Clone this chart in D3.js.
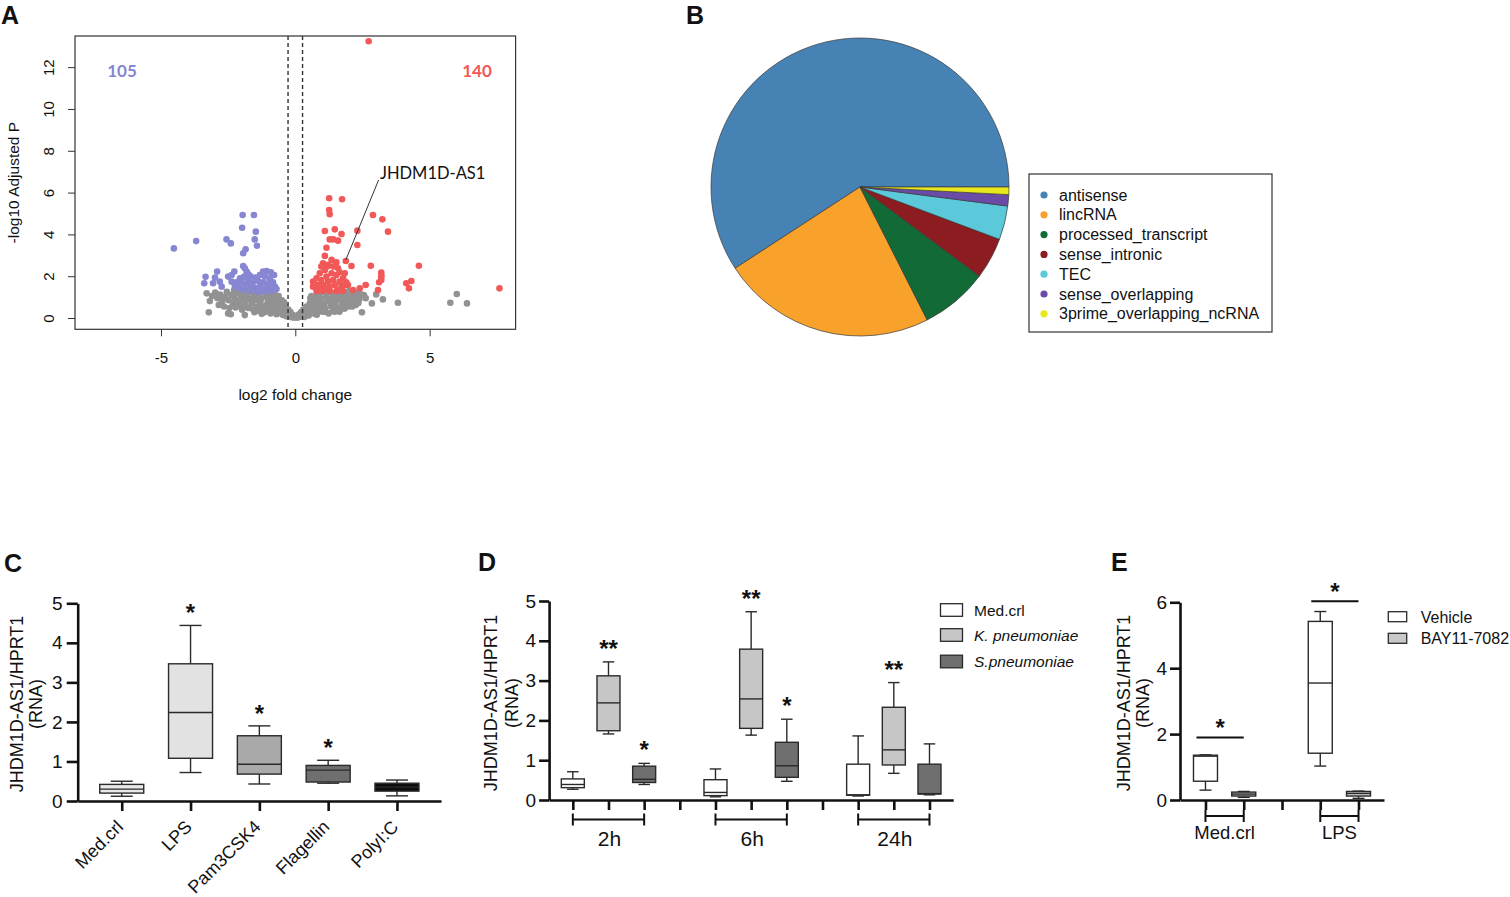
<!DOCTYPE html>
<html>
<head>
<meta charset="utf-8">
<script src="https://cdn.jsdelivr.net/npm/d3@7"></script>
<style>
  body { margin: 0; background: #fff; }
  svg text { font-family: "Liberation Sans", Arial, sans-serif; fill: #111; }
</style>
</head>
<body>
<svg id="fig" width="1510" height="897"></svg>
<script>
// ---- A: volcano (log2 fold change, -log10 adjusted P) ----
var volcanoGray = [
  [-3.30,1.18],[-3.18,0.81],[-3.22,0.27],[-3.10,1.05],[-2.98,1.22],[-2.90,0.95],[-2.80,1.12],[-2.72,0.80],
  [-2.62,1.02],[-2.55,1.25],[-2.50,0.22],[-2.48,0.85],[-2.40,0.18],[-2.38,1.10],[-2.32,0.66],[-2.25,0.92],
  [-2.18,1.20],[-2.12,0.75],[-2.05,0.58],[-2.02,1.02],[-1.95,1.28],[-1.92,0.85],[-1.88,0.14],[-1.85,0.62],
  [-1.80,1.10],[-1.76,0.48],[-1.72,0.90],[-1.66,1.25],[-1.62,0.70],[-1.58,0.42],[-1.55,1.02],[-1.48,0.85],
  [-1.45,1.28],[-1.42,0.55],[-1.38,0.35],[-1.35,1.08],[-1.30,0.72],[-1.26,0.92],[-1.22,1.25],[-1.18,0.45],
  [-1.14,0.28],[-1.10,1.05],[-1.08,0.62],[-1.02,0.82],[-0.98,1.22],[-0.96,0.40],[-0.92,0.22],[-0.88,1.00],
  [-0.85,0.60],[-0.80,0.80],[-0.76,1.12],[-0.74,0.35],[-0.70,0.18],[-0.66,0.92],[-0.64,0.55],[-0.60,0.72],
  [-0.56,0.30],[-0.54,0.48],[-0.50,0.85],[-0.46,0.15],[-0.44,0.62],[-0.40,0.38],[-0.36,0.52],[-0.33,0.08],
  [-0.30,0.25],[-0.26,0.40],[-0.22,0.12],[-0.18,0.28],[-0.14,0.04],[-0.10,0.15],[-0.06,0.02],[-0.02,0.06],
  [-2.85,0.62],[-2.65,0.55],[-2.45,0.48],[-2.28,1.32],[-2.08,1.30],[-1.98,0.40],[-1.70,1.35],[-1.52,0.28],
  [-1.40,1.35],[-1.25,0.20],[-1.12,1.32],[-0.95,0.60],[-0.90,1.30],[-0.78,0.50],[-0.62,1.05],[-0.52,0.22],
  [-0.42,0.75],[-2.70,0.95],[-2.22,0.50],[-1.60,0.92],[-1.28,0.58],[-1.04,1.02],
  [0.02,0.03],[0.06,0.10],[0.10,0.02],[0.14,0.18],[0.18,0.06],[0.22,0.28],[0.26,0.12],[0.30,0.40],
  [0.34,0.05],[0.38,0.22],[0.42,0.55],[0.46,0.35],[0.50,0.12],[0.54,0.70],[0.58,0.45],[0.62,0.25],
  [0.66,0.85],[0.70,0.58],[0.74,1.02],[0.78,0.38],[0.80,0.16],[0.84,0.75],[0.88,1.15],[0.92,0.52],
  [0.96,0.92],[1.00,0.30],[1.04,1.22],[1.08,0.68],[1.12,0.45],[1.16,1.02],[1.20,0.82],[1.24,0.22],
  [1.28,1.25],[1.32,0.58],[1.36,0.95],[1.40,0.38],[1.44,1.15],[1.48,0.72],[1.52,0.50],[1.56,1.28],
  [1.60,0.88],[1.64,0.30],[1.68,1.08],[1.72,0.62],[1.76,0.85],[1.80,1.22],[1.84,0.45],[1.88,1.00],
  [1.92,0.72],[1.96,1.25],[2.00,0.55],[2.05,0.95],[2.10,1.15],[2.15,0.75],[2.20,1.02],[2.25,0.62],
  [2.30,1.22],[2.38,0.90],[2.48,0.27],[2.55,1.10],[2.85,0.70],[3.01,1.13],[3.26,0.89],[3.82,0.73],
  [0.56,0.95],[0.72,0.20],[0.82,1.25],[0.94,0.70],[1.10,0.30],[1.18,1.30],[1.34,0.75],[1.46,0.30],
  [1.58,1.05],[1.70,0.42],[1.82,0.68],[1.94,0.92],[2.02,1.30],[2.12,0.55],[2.22,0.85],[2.35,0.72],
  [2.42,1.15],[2.62,0.95],[0.40,0.12],[0.60,1.05],
  [5.77,0.73],[6.01,1.15],[6.39,0.70]
];
var volcanoDown = [
  [-4.52,3.33],[-3.69,3.68],[-1.96,4.93],[-1.54,4.93],[-1.98,4.32],[-1.47,4.13],[-2.56,3.76],[-2.40,3.57],
  [-1.51,3.76],[-1.43,3.46],[-1.85,3.29],[-1.94,3.10],[-1.94,2.49],[-1.88,2.38],[-1.81,2.22],[-2.91,2.22],
  [-3.34,1.97],[-3.39,1.66],[-2.99,1.93],[-3.06,1.66],[-2.81,1.74],[-2.74,1.50],[-2.50,1.98],[-2.37,2.06],
  [-2.27,2.22],[-2.37,1.74],
  [-1.20,2.22],[-1.07,2.25],[-0.91,2.19],[-0.79,2.06],[-1.13,1.98],[-0.95,1.90],[-1.32,2.06],[-1.51,1.93],
  [-1.69,2.02],[-1.75,1.82],[-1.57,1.71],[-1.38,1.77],[-1.20,1.71],[-1.01,1.66],[-0.83,1.71],[-0.76,1.50],
  [-0.95,1.45],[-1.13,1.42],[-1.32,1.50],[-1.51,1.45],[-1.69,1.55],[-1.88,1.61],[-2.00,1.74],[-2.13,1.58],
  [-2.25,1.50],[-2.06,1.42],[-1.88,1.34],[-1.63,1.29],[-1.38,1.26],[-1.13,1.26],[-0.88,1.29],[-0.70,1.39],
  [-1.75,2.09],[-1.90,1.98],[-2.06,1.90],[-2.19,1.71]
];
var volcanoUp = [
  [2.73,13.24],[1.26,5.73],[1.74,5.68],[1.26,5.17],[1.28,4.96],[2.89,4.93],[3.24,4.72],[3.45,4.13],
  [1.10,4.16],[1.47,4.24],[1.72,4.02],[2.31,4.18],[1.28,3.76],[1.41,3.76],[1.59,3.70],[2.31,3.49],
  [1.16,3.36],[1.10,2.97],[1.35,2.78],[1.53,2.66],[1.03,2.62],[1.18,2.46],[1.88,2.73],[2.09,2.49],
  [2.81,2.50],[3.20,2.17],[3.20,1.98],[3.12,1.71],[3.08,1.34],[2.62,1.58],[2.40,1.42],[2.15,1.34],
  [1.96,1.58],[4.60,2.50],[3.20,2.01],[3.20,1.82],[4.32,1.77],[4.13,1.66],[4.23,1.42],[7.60,1.42],
  [0.66,1.74],[0.66,1.50],[0.79,1.90],[0.85,1.58],[0.91,2.14],[0.97,1.82],[1.03,1.58],[1.10,2.30],
  [1.16,1.98],[1.22,1.74],[1.28,1.50],[1.35,2.14],[1.41,1.82],[1.47,1.58],[1.53,2.06],[1.59,2.38],
  [1.65,1.74],[1.72,1.50],[1.78,1.90],[1.84,1.58],[1.90,1.71],[0.79,1.29],[1.03,1.29],[1.28,1.29],
  [1.53,1.29],[1.78,1.29],[0.97,2.46],[1.22,2.54],[1.41,2.46],[1.65,2.19],[1.84,2.14],[1.16,1.42],
  [1.59,1.34],[0.72,1.61],[0.91,1.39]
];
var volcanoCounts = [105, 140];
var volcanoCutoff = 0.27;
var volcanoGene = ['JHDM1D-AS1', 1.88, 2.73];
var volcanoXTicks = [-5, 0, 5];
var volcanoYTicks = [0, 2, 4, 6, 8, 10, 12];

// ---- B: biotypes ----
var biotypes = ['antisense', 'lincRNA', 'processed_transcript', 'sense_intronic', 'TEC', 'sense_overlapping', '3prime_overlapping_ncRNA'];
var biotypeCounts = [145, 57, 18, 11, 9, 3, 2];

// ---- C: TLR ligands, [min, q1, median, q3, max] ----
var ligands = ['Med.crl', 'LPS', 'Pam3CSK4', 'Flagellin', 'PolyI:C'];
var ligandStats = [
  [0.12, 0.20, 0.30, 0.42, 0.50],
  [0.72, 1.08, 2.24, 3.47, 4.44],
  [0.43, 0.68, 0.93, 1.65, 1.90],
  [0.45, 0.48, 0.78, 0.90, 1.03],
  [0.13, 0.25, 0.35, 0.45, 0.53]
];
var ligandStars = ['', '*', '*', '*', ''];
var ligandTicks = [0, 1, 2, 3, 4, 5];

// ---- D: bacteria over time ----
var timepoints = ['2h', '6h', '24h'];
var bacteria = ['Med.crl', 'K. pneumoniae', 'S.pneumoniae'];
var bacteriaStats = [
  [[0.27, 0.31, 0.39, 0.53, 0.71], [1.66, 1.74, 2.44, 3.12, 3.47], [0.39, 0.44, 0.52, 0.85, 0.92]],
  [[0.08, 0.11, 0.19, 0.51, 0.78], [1.63, 1.80, 2.54, 3.79, 4.73], [0.47, 0.57, 0.86, 1.45, 2.03]],
  [[0.10, 0.12, 0.13, 0.90, 1.61], [0.67, 0.88, 1.26, 2.33, 2.95], [0.13, 0.15, 0.16, 0.90, 1.41]]
];
var bacteriaStars = [['', '**', '*'], ['', '**', '*'], ['', '**', '']];
var bacteriaTicks = [0, 1, 2, 3, 4, 5];

// ---- E: NF-kB inhibitor ----
var stimuli = ['Med.crl', 'LPS'];
var inhibitors = ['Vehicle', 'BAY11-7082'];
var inhibitorStats = [
  [[0.30, 0.57, 1.33, 1.36, 1.37], [0.08, 0.12, 0.18, 0.24, 0.26]],
  [[1.03, 1.42, 3.55, 5.42, 5.72], [0.05, 0.12, 0.20, 0.26, 0.27]]
];
var inhibitorSigLevel = [1.9, 6.03];
var inhibitorTicks = [0, 2, 4, 6];

var svg = d3.select('#fig');
// plain hyphen minus, no decimals
var plainNum = function(d) { return String(d); };

function panelLabel(txt, x, y) {
  svg.append('text').attr('x', x).attr('y', y)
    .attr('font-size', 25).attr('font-weight', 'bold').text(txt);
}
panelLabel('A', 1, 24);
panelLabel('B', 686, 24);
panelLabel('C', 4, 572);
panelLabel('D', 478, 571);
panelLabel('E', 1111, 571);

// ================= A =================
(function() {
  var L = 75, R = 515.6, T = 36, B = 329.3;
  var x = d3.scaleLinear().domain([-8.2, 8.2]).range([L, R]);
  var y = d3.scaleLinear().domain([-0.54, 13.49]).range([B, T]);
  var g = svg.append('g');

  function dots(data, color) {
    g.append('g').selectAll('circle').data(data).join('circle')
      .attr('cx', function(d) { return x(d[0]); })
      .attr('cy', function(d) { return y(d[1]); })
      .attr('r', 3.3)
      .attr('fill', color);
  }
  dots(volcanoGray, '#929292');
  dots(volcanoDown, '#8686d2');
  dots(volcanoUp, '#f15858');

  [-volcanoCutoff, volcanoCutoff].forEach(function(c) {
    g.append('line').attr('x1', x(c)).attr('x2', x(c)).attr('y1', T).attr('y2', B)
      .attr('stroke', '#333').attr('stroke-width', 1.4).attr('stroke-dasharray', '4,3');
  });

  g.append('rect').attr('x', L).attr('y', T).attr('width', R - L).attr('height', B - T)
    .attr('fill', 'none').attr('stroke', '#333').attr('stroke-width', 1.2);

  var ya = g.append('g').attr('transform', 'translate(' + L + ',0)')
    .call(d3.axisLeft(y).tickValues(volcanoYTicks).tickFormat(plainNum).tickSize(7).tickSizeOuter(0));
  ya.select('.domain').remove();
  ya.selectAll('line').attr('stroke', '#333');
  ya.selectAll('text').attr('transform', 'rotate(-90)').attr('x', 0).attr('y', -21).attr('dy', 0)
    .attr('text-anchor', 'middle').attr('font-size', 15).style('font-family', '"Liberation Sans", Arial');

  var xa = g.append('g').attr('transform', 'translate(0,' + B + ')')
    .call(d3.axisBottom(x).tickValues(volcanoXTicks).tickFormat(plainNum).tickSize(7).tickSizeOuter(0));
  xa.select('.domain').remove();
  xa.selectAll('line').attr('stroke', '#333');
  xa.selectAll('text').attr('y', 34).attr('dy', 0).attr('font-size', 15).style('font-family', '"Liberation Sans", Arial');

  g.append('text').attr('x', (L + R) / 2).attr('y', 400).attr('text-anchor', 'middle')
    .attr('font-size', 15.5).text('log2 fold change');
  g.append('text').attr('transform', 'translate(19,' + (T + B) / 2 + ') rotate(-90)')
    .attr('text-anchor', 'middle').attr('font-size', 15.5).text('-log10 Adjusted P');

  g.append('text').attr('x', 122).attr('y', 77).attr('text-anchor', 'middle')
    .style('font-family', 'Lato').style('fill', '#8686d2').attr('font-weight', 'bold').attr('font-size', 17)
    .text(volcanoCounts[0]);
  g.append('text').attr('x', 477).attr('y', 77).attr('text-anchor', 'middle')
    .style('font-family', 'Lato').style('fill', '#f15858').attr('font-weight', 'bold').attr('font-size', 17)
    .text(volcanoCounts[1]);

  g.append('line').attr('x1', 378.6).attr('y1', 180)
    .attr('x2', x(volcanoGene[1])).attr('y2', y(volcanoGene[2]) - 1)
    .attr('stroke', '#333').attr('stroke-width', 1);
  g.append('text').attr('x', 380).attr('y', 179).style('font-family', 'Lato').attr('font-size', 16.5)
    .text(volcanoGene[0]);
})();

// ================= B =================
(function() {
  var colors = ['#4682b4', '#f8a22c', '#126b37', '#8c1c1f', '#5bc9d9', '#6b4ba8', '#e8e81c'];
  var cx = 860, cy = 187, r = 149;
  var pie = d3.pie().sort(null).startAngle(Math.PI / 2).endAngle(Math.PI / 2 - 2 * Math.PI);
  var arc = d3.arc().innerRadius(0).outerRadius(r);
  var g = svg.append('g').attr('transform', 'translate(' + cx + ',' + cy + ')');
  g.selectAll('path').data(pie(biotypeCounts)).join('path')
    .attr('d', arc)
    .attr('fill', function(d, i) { return colors[i]; })
    .attr('stroke', '#3a3a3a').attr('stroke-width', 0.7);

  var lg = svg.append('g');
  lg.append('rect').attr('x', 1029).attr('y', 174).attr('width', 243).attr('height', 158)
    .attr('fill', '#fff').attr('stroke', '#333').attr('stroke-width', 1.2);
  biotypes.forEach(function(name, i) {
    var yy = 195 + i * 19.8;
    lg.append('circle').attr('cx', 1044).attr('cy', yy).attr('r', 3.6).attr('fill', colors[i]);
    lg.append('text').attr('x', 1059).attr('y', yy + 5.5).attr('font-size', 16).text(name);
  });
})();

// ---------- shared helpers for the box plots ----------
function boxPlot(g, cx, w, s, y, fill) {
  var b = g.append('g').attr('stroke', '#2a2a2a').attr('stroke-width', 1.4);
  var cap = w / 2;
  b.append('line').attr('x1', cx).attr('x2', cx).attr('y1', y(s[0])).attr('y2', y(s[1]));
  b.append('line').attr('x1', cx).attr('x2', cx).attr('y1', y(s[3])).attr('y2', y(s[4]));
  b.append('line').attr('x1', cx - cap / 2).attr('x2', cx + cap / 2).attr('y1', y(s[0])).attr('y2', y(s[0]));
  b.append('line').attr('x1', cx - cap / 2).attr('x2', cx + cap / 2).attr('y1', y(s[4])).attr('y2', y(s[4]));
  b.append('rect').attr('x', cx - w / 2).attr('y', y(s[3])).attr('width', w)
    .attr('height', Math.max(1, y(s[1]) - y(s[3]))).attr('fill', fill);
  b.append('line').attr('x1', cx - w / 2).attr('x2', cx + w / 2).attr('y1', y(s[2])).attr('y2', y(s[2]));
}

function styleAxis(sel, fontSize) {
  sel.select('.domain').attr('stroke', '#111').attr('stroke-width', 2.6);
  sel.selectAll('.tick line').attr('stroke', '#111').attr('stroke-width', 2.6);
  sel.selectAll('.tick text').attr('font-size', fontSize).style('fill', '#111')
    .style('font-family', '"Liberation Sans", Arial');
}

function yTitle(g, xa, xb, cy) {
  g.append('text').attr('transform', 'translate(' + xa + ',' + cy + ') rotate(-90)')
    .attr('text-anchor', 'middle').attr('font-size', 18).text('JHDM1D-AS1/HPRT1');
  g.append('text').attr('transform', 'translate(' + xb + ',' + cy + ') rotate(-90)')
    .attr('text-anchor', 'middle').attr('font-size', 18).text('(RNA)');
}

function star(g, cx, cyc, txt) {
  g.append('text').attr('x', cx).attr('y', cyc + 14).attr('text-anchor', 'middle')
    .attr('font-size', 24).attr('font-weight', 'bold').text(txt);
}

function bracket(g, x1, x2, yy) {
  var b = g.append('g').attr('stroke', '#111').attr('stroke-width', 2);
  b.append('line').attr('x1', x1).attr('x2', x2).attr('y1', yy).attr('y2', yy);
  b.append('line').attr('x1', x1).attr('x2', x1).attr('y1', yy - 6).attr('y2', yy + 6);
  b.append('line').attr('x1', x2).attr('x2', x2).attr('y1', yy - 6).attr('y2', yy + 6);
}

// ================= C =================
(function() {
  var fills = ['#e8e8e8', '#e2e2e2', '#a9a9a9', '#6f6f6f', '#0d0d0d'];
  var x = d3.scalePoint().domain(ligands).range([77.7, 441]).padding(0.64);
  var y = d3.scaleLinear().domain([0, 5]).range([801, 603.3]);
  var g = svg.append('g');

  ligands.forEach(function(name, i) {
    boxPlot(g, x(name), 44, ligandStats[i], y, fills[i]);
    if (ligandStars[i]) star(g, x(name), y(ligandStats[i][4]) - 18, ligandStars[i]);
  });

  var ya = g.append('g').attr('transform', 'translate(77.7,0)')
    .call(d3.axisLeft(y).tickValues(ligandTicks).tickFormat(plainNum).tickSize(11).tickSizeOuter(0).tickPadding(4));
  styleAxis(ya, 19);
  var xa = g.append('g').attr('transform', 'translate(0,801)')
    .call(d3.axisBottom(x).tickSize(10).tickSizeOuter(0));
  styleAxis(xa, 18);
  xa.selectAll('.tick text').attr('text-anchor', 'end').attr('dy', 0).attr('y', 0)
    .attr('transform', 'translate(2,27) rotate(-45)');

  yTitle(g, 22.5, 41.5, 704);
})();

// ================= D =================
(function() {
  var fills = ['#ffffff', '#c6c6c6', '#6f6f6f'];
  var slots = [];
  timepoints.forEach(function(t, i) {
    bacteria.forEach(function(b, j) { slots.push(i + '-' + j); });
    if (i < timepoints.length - 1) slots.push('gap' + i);
  });
  var x = d3.scalePoint().domain(slots).range([549.1, 953.2]).padding(0.665);
  var y = d3.scaleLinear().domain([0, 5]).range([800, 601]);
  var g = svg.append('g');

  timepoints.forEach(function(t, i) {
    bacteria.forEach(function(b, j) {
      var cx = x(i + '-' + j);
      boxPlot(g, cx, 23, bacteriaStats[i][j], y, fills[j]);
      if (bacteriaStars[i][j]) star(g, cx, y(bacteriaStats[i][j][4]) - 19, bacteriaStars[i][j]);
    });
    var x1 = x(i + '-0'), x2 = x(i + '-2');
    bracket(g, x1, x2, 819.5);
    g.append('text').attr('x', (x1 + x2) / 2 + 1).attr('y', 846).attr('text-anchor', 'middle')
      .attr('font-size', 21).text(t);
  });

  var ya = g.append('g').attr('transform', 'translate(549.1,0)')
    .call(d3.axisLeft(y).tickValues(bacteriaTicks).tickFormat(plainNum).tickSize(10).tickSizeOuter(0).tickPadding(3));
  styleAxis(ya, 19);
  var xa = g.append('g').attr('transform', 'translate(0,800)')
    .call(d3.axisBottom(x).tickSize(10).tickSizeOuter(0).tickFormat(''));
  styleAxis(xa, 12);

  yTitle(g, 496.5, 518, 703);

  bacteria.forEach(function(b, j) {
    var yy = [610, 635, 661.5][j];
    g.append('rect').attr('x', 940.5).attr('y', yy - 6.3).attr('width', 22).attr('height', 12.6)
      .attr('fill', fills[j]).attr('stroke', '#2a2a2a').attr('stroke-width', 1.3);
    g.append('text').attr('x', 974).attr('y', yy + 5.5).attr('font-size', 15.5)
      .attr('font-style', j === 0 ? 'normal' : 'italic').text(b);
  });
})();

// ================= E =================
(function() {
  var fills = ['#ffffff', '#c8c8c8'];
  var slots = ['0-0', '0-1', 'gap', '1-0', '1-1'];
  var x = d3.scalePoint().domain(slots).range([1180, 1384]).padding(0.666);
  var y = d3.scaleLinear().domain([0, 6]).range([800, 602.3]);
  var g = svg.append('g');

  stimuli.forEach(function(s, i) {
    inhibitors.forEach(function(v, j) {
      boxPlot(g, x(i + '-' + j), 24, inhibitorStats[i][j], y, fills[j]);
    });
    var x1 = x(i + '-0'), x2 = x(i + '-1');
    g.append('line').attr('x1', x1 - 9).attr('x2', x2).attr('y1', y(inhibitorSigLevel[i]))
      .attr('y2', y(inhibitorSigLevel[i])).attr('stroke', '#111').attr('stroke-width', 2);
    star(g, (x1 - 9 + x2) / 2, y(inhibitorSigLevel[i]) - 15, '*');
    bracket(g, x1, x2, 816);
    g.append('text').attr('x', (x1 + x2) / 2).attr('y', 839).attr('text-anchor', 'middle')
      .attr('font-size', 18.5).text(s);
  });

  var ya = g.append('g').attr('transform', 'translate(1180,0)')
    .call(d3.axisLeft(y).tickValues(inhibitorTicks).tickFormat(plainNum).tickSize(10).tickSizeOuter(0).tickPadding(3));
  styleAxis(ya, 19);
  var xa = g.append('g').attr('transform', 'translate(0,800)')
    .call(d3.axisBottom(x).tickSize(10).tickSizeOuter(0).tickFormat(''));
  styleAxis(xa, 12);

  yTitle(g, 1129.5, 1148.5, 703);

  inhibitors.forEach(function(v, j) {
    var yy = [616.7, 638.3][j];
    g.append('rect').attr('x', 1388.3).attr('y', yy - 5).attr('width', 18.4).attr('height', 10)
      .attr('fill', fills[j]).attr('stroke', '#2a2a2a').attr('stroke-width', 1.3);
    g.append('text').attr('x', 1420.7).attr('y', yy + 5.8).attr('font-size', 16).text(v);
  });
})();
</script>
</body>
</html>
